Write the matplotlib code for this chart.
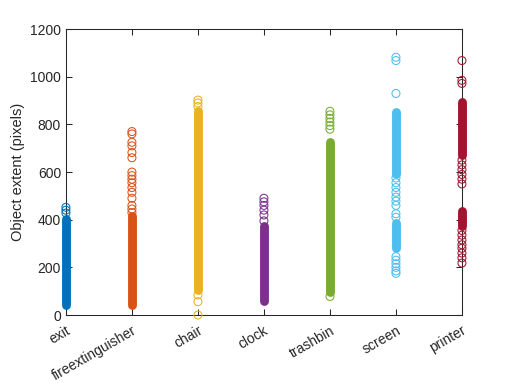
import matplotlib
matplotlib.use("Agg")
import matplotlib.pyplot as plt

plt.rcParams['font.family'] = ['Liberation Sans', 'DejaVu Sans']

categories = ['exit', 'fireextinguisher', 'chair', 'clock', 'trashbin', 'screen', 'printer']
colors = ['#0072BD', '#D95319', '#EDB120', '#7E2F8E', '#77AC30', '#4DBEEE', '#A2142F']

# dense runs of overlapping points (low, high) per category
exit_bands = [(40, 405)]
fireext_bands = [(40, 415)]
chair_bands = [(105, 855)]
clock_bands = [(60, 375)]
trashbin_bands = [(95, 728)]
screen_bands = [(590, 850), (280, 385)]
printer_bands = [(670, 895), (375, 435)]

# individually visible points per category
exit_pts = [452, 440, 428]
fireext_pts = [770, 760, 725, 710, 682, 660, 600, 585, 570, 555, 535, 515, 490, 460, 445, 430]
chair_pts = [902, 890, 875, 84, 56, 0]
clock_pts = [490, 475, 460, 440, 420, 395]
trashbin_pts = [855, 840, 825, 810, 795, 780, 78]
screen_pts = [1082, 1068, 930, 575, 555, 535, 515, 495, 478, 460, 425, 410,
              245, 230, 215, 200, 185, 175]
printer_pts = [1068, 985, 972, 650, 630, 610, 590, 570, 550,
               355, 335, 315, 295, 280, 260, 240, 218]

bands = [exit_bands, fireext_bands, chair_bands, clock_bands,
         trashbin_bands, screen_bands, printer_bands]
points = [exit_pts, fireext_pts, chair_pts, clock_pts,
          trashbin_pts, screen_pts, printer_pts]

fig = plt.figure(figsize=(5.11, 3.83), dpi=100)
ax = fig.add_axes([0.129, 0.1775, 0.775, 0.7465])

for i, (bl, pl, c) in enumerate(zip(bands, points, colors)):
    x = i + 1
    for lo, hi in bl:
        ax.plot([x, x], [lo, hi], color=c, lw=6.4, solid_capstyle='round',
                zorder=3, clip_on=False)
    ax.scatter([x] * len(pl), pl, s=33, facecolors='none', edgecolors=c,
               linewidths=0.75, zorder=3, clip_on=False)

ax.set_xlim(1, 7)
ax.set_ylim(0, 1200)
ax.set_xticks(range(1, 8))
ax.set_xticklabels(categories, rotation=30, ha='right', va='top', rotation_mode='anchor')
ax.set_yticks(range(0, 1201, 200))
ax.set_ylabel('Object extent (pixels)', fontsize=10.5, color='#262626')

dark = '#262626'
for s in ax.spines.values():
    s.set_color(dark)
    s.set_linewidth(0.75)
ax.tick_params(direction='in', length=4, width=0.75, colors=dark, labelsize=10,
               top=True, right=True, labelcolor=dark)
ax.tick_params(axis='x', pad=6)

fig.savefig('out.png', dpi=100)
